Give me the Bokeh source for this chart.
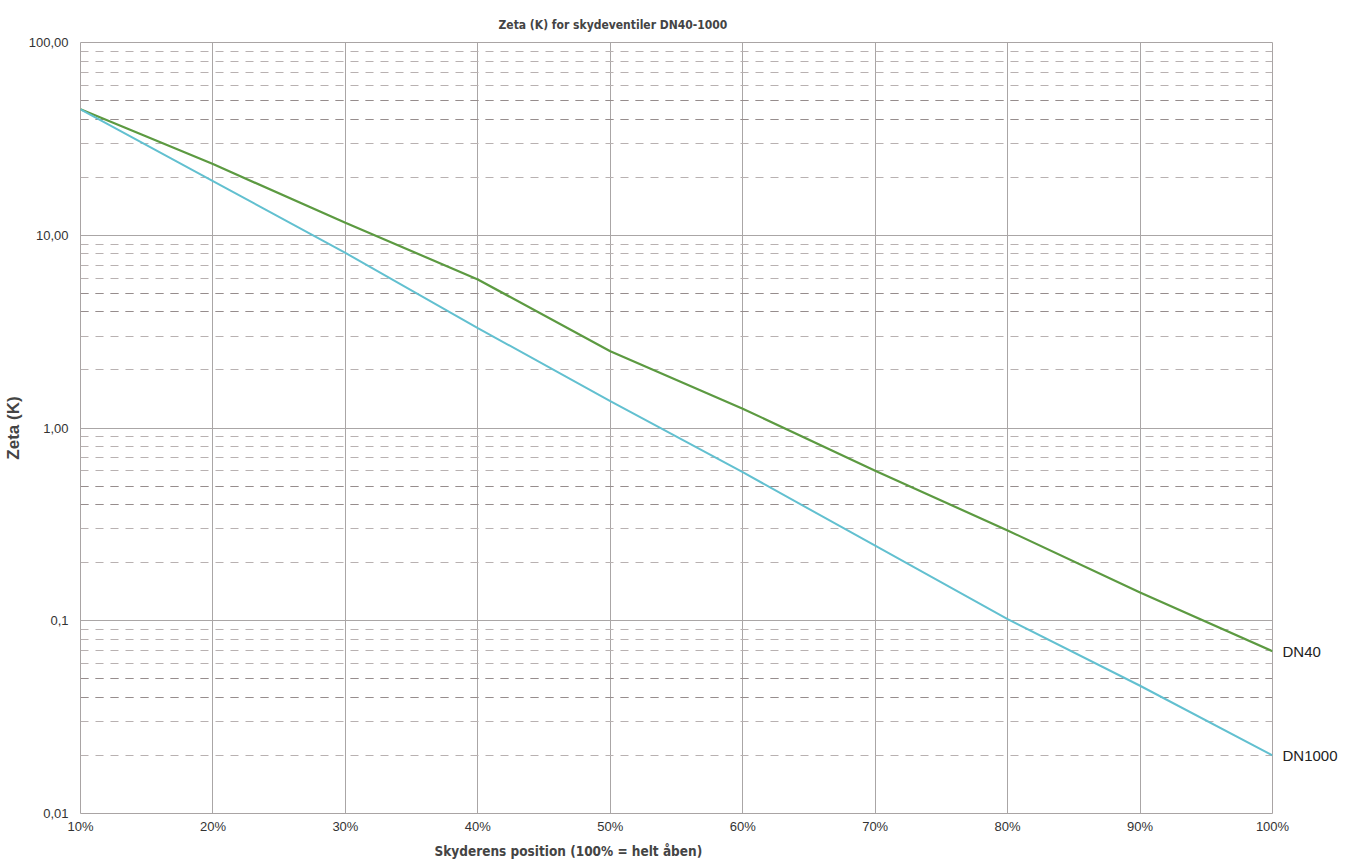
from bokeh.plotting import figure
from bokeh.models import FixedTicker, Range1d, LogAxis, Title, Grid
from bokeh.embed import file_html
from bokeh.resources import INLINE

# ---- data ----
positions = [10, 20, 30, 40, 50, 60, 70, 80, 90, 100]
dn40 = [45.0, 23.4, 11.6, 5.9, 2.5, 1.26, 0.60, 0.294, 0.140, 0.0695]
dn1000 = [45.0, 19.1, 8.1, 3.3, 1.38, 0.59, 0.245, 0.102, 0.046, 0.020]
x_tick_labels = ["10%", "20%", "30%", "40%", "50%", "60%", "70%", "80%", "90%", "100%"]
y_ticks = [0.01, 0.1, 1, 10, 100]
y_tick_labels = ["0,01", "0,1", "1,00", "10,00", "100,00"]
series_names = ["DN40", "DN1000"]

FONT = "Liberation Sans"
NARROW = "Liberation Sans Narrow, DejaVu Sans Condensed, sans-serif"
GREEN = "#5c9a41"
CYAN = "#62c0d0"

p = figure(width=1350, height=862, y_axis_type="log",
           x_range=Range1d(10, 100), y_range=Range1d(0.01, 100),
           output_backend="svg", toolbar_location=None,
           min_border_left=78, min_border_right=78, min_border_top=42, min_border_bottom=46)

p.title.text = "Zeta (K) for skydeventiler DN40-1000"
p.title.text_font = NARROW
p.title.text_font_size = "12px"
p.title.text_font_style = "bold"
p.title.align = "left"
p.title.offset = 418
p.title.standoff = 22

p.outline_line_color = "#a9a4a4"
p.outline_line_width = 1

# x axis
p.xaxis.ticker = FixedTicker(ticks=positions)
p.xaxis.major_label_overrides = {v: l for v, l in zip(positions, x_tick_labels)}
p.xaxis.axis_line_color = None
p.xaxis.major_tick_line_color = None
p.xaxis.minor_tick_line_color = None
p.xaxis.major_tick_out = 0
p.xaxis.minor_tick_out = 0
p.xaxis.major_label_text_font = FONT
p.xaxis.major_label_text_font_size = "13px"
p.xaxis.major_label_text_color = "#333333"
p.xaxis.major_label_standoff = 5

xlabel = Title(text="Skyderens position (100% = helt åben)", align="left", offset=354,
               text_font=NARROW, text_font_size="13.5px", text_font_style="bold", standoff=8)
p.add_layout(xlabel, "below")

# y axis
minor = [k * 10.0 ** e for e in range(-2, 2) for k in range(2, 10)]
p.yaxis.ticker = FixedTicker(ticks=y_ticks, minor_ticks=minor)
p.yaxis.major_label_overrides = {v: l for v, l in zip(y_ticks, y_tick_labels)}
p.yaxis.axis_line_color = None
p.yaxis.major_tick_line_color = None
p.yaxis.minor_tick_line_color = None
p.yaxis.major_tick_out = 0
p.yaxis.minor_tick_out = 0
p.yaxis.major_label_text_font = FONT
p.yaxis.major_label_text_font_size = "13px"
p.yaxis.major_label_text_color = "#333333"
p.yaxis.major_label_standoff = 12
p.yaxis.axis_label = "Zeta (K)"
p.yaxis.axis_label_text_font = FONT
p.yaxis.axis_label_text_font_size = "17px"
p.yaxis.axis_label_text_font_style = "bold"
p.yaxis.axis_label_standoff = 3

# grids
p.xgrid.grid_line_color = "#aaa6a6"
p.xgrid.grid_line_width = 1
p.ygrid.grid_line_color = "#aaa6a6"
p.ygrid.grid_line_width = 1
p.ygrid.minor_grid_line_color = "#b8b1b1"
p.ygrid.minor_grid_line_dash = "8 7"
p.ygrid.minor_grid_line_width = 1

# slightly darker dashed lines at 4 and 5 of every decade
dark_minor = [k * 10.0 ** e for e in range(-2, 2) for k in (4, 5)]
p.add_layout(Grid(dimension=1, ticker=FixedTicker(ticks=dark_minor),
                  grid_line_color="#968d8d", grid_line_dash="8 7", grid_line_width=1))

# lines
p.line(positions, dn40, line_color=GREEN, line_width=2.2)
p.line(positions, dn1000, line_color=CYAN, line_width=2.0)

# series names on the right, aligned to the end values
end_vals = [dn40[-1], dn1000[-1]]
right = LogAxis(ticker=FixedTicker(ticks=end_vals),
                major_label_overrides={v: n for v, n in zip(end_vals, series_names)},
                axis_line_color=None, major_tick_line_color=None, minor_tick_line_color=None,
                major_tick_out=0, minor_tick_out=0, major_label_standoff=10,
                major_label_text_font=FONT, major_label_text_font_size="15px",
                major_label_text_color="#222222")
p.add_layout(right, "right")

open("out.html", "w").write(file_html(p, INLINE))
